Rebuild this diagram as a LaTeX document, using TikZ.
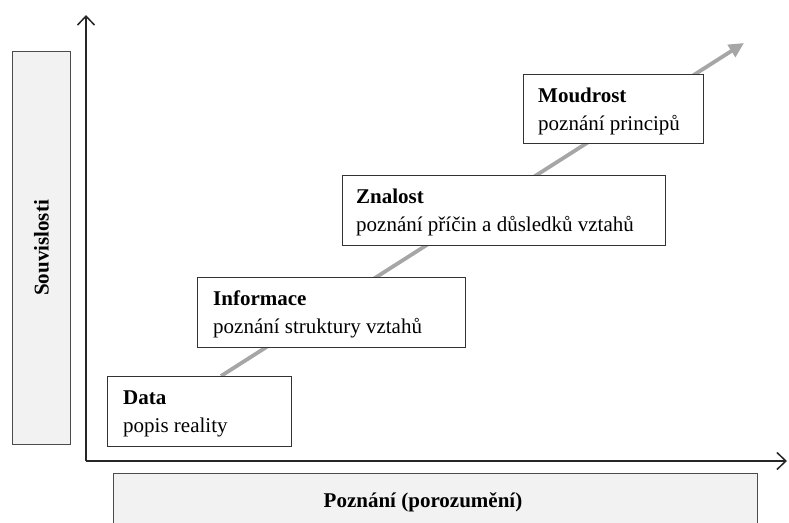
\documentclass[tikz,border=0pt]{standalone}
\usepackage{fontspec}
\setmainfont{Liberation Serif}
\usetikzlibrary{arrows.meta}
\definecolor{panelgray}{HTML}{F2F2F2}
\definecolor{growgray}{HTML}{A6A6A6}
\tikzset{
  stagebox/.style={draw=black!80, line width=0.9pt, fill=white, anchor=north west, inner sep=0pt},
  panelbox/.style={draw=black!70, line width=0.9pt, fill=panelgray, anchor=north west, inner sep=0pt},
  titletext/.style={anchor=base west, inner sep=0pt, font=\fontsize{21}{24}\selectfont\bfseries},
  desctext/.style={anchor=base west, inner sep=0pt, font=\fontsize{21}{24}\selectfont},
  axis/.style={draw=black!85, line width=1.8pt, -{Straight Barb[length=9pt,width=17pt,line width=1.5pt]}},
  growth/.style={draw=growgray, line width=3.8pt, -{Triangle[length=15pt,width=14pt]}},
}
\begin{document}
\begin{tikzpicture}[x=1pt,y=-1pt]
\useasboundingbox (0,0) rectangle (789,522);

% side panel
\node[panelbox, minimum width=58pt, minimum height=393pt] (side) at (12,51) {};
\node[rotate=90, inner sep=0pt, font=\fontsize{21}{24}\selectfont\bfseries] (sidet) at (side.center) {Souvislosti};

% bottom panel
\node[panelbox, minimum width=644pt, minimum height=60pt] (bottom) at (113,473) {};
\node[anchor=base, inner sep=0pt, font=\fontsize{21}{24}\selectfont\bfseries] (bottomt) at (423,507) {Poznání (porozumění)};

% axes
\coordinate (origin) at (86,461);
\coordinate (ytop) at (86,15);
\coordinate (xend) at (787,461);
\draw[axis] (origin) -- (ytop);
\draw[axis] (origin) -- (xend);

% growth arrow
\coordinate (gs) at (221,376);
\coordinate (ge) at (744,43);
\draw[growth] (gs) -- (ge);

% stages
\node[stagebox, minimum width=184pt, minimum height=70pt] (data) at (107,376) {};
\node[titletext] (datat) at (123,404) {Data};
\node[desctext] (datad) at (123,432) {popis reality};

\node[stagebox, minimum width=268pt, minimum height=70pt] (info) at (197,277) {};
\node[titletext] (infot) at (213,305) {Informace};
\node[desctext] (infod) at (213,333) {poznání struktury vztahů};

\node[stagebox, minimum width=323pt, minimum height=70pt] (znal) at (342,175) {};
\node[titletext] (znalt) at (356,203) {Znalost};
\node[desctext] (znald) at (356,231) {poznání příčin a důsledků vztahů};

\node[stagebox, minimum width=180pt, minimum height=69pt] (moud) at (523,74) {};
\node[titletext] (moudt) at (538,102) {Moudrost};
\node[desctext] (moudd) at (538,130) {poznání principů};
\end{tikzpicture}
\end{document}
